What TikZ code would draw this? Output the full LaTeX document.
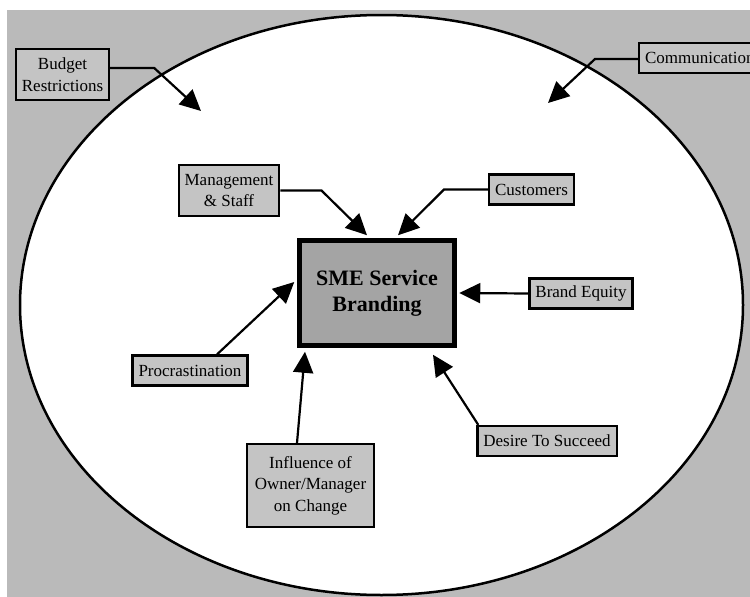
\documentclass[tikz,border=0pt]{standalone}
\usepackage{fontspec}
\setmainfont{Liberation Serif}
\usetikzlibrary{arrows.meta, positioning, calc}
\definecolor{bggray}{RGB}{186,186,186}
\definecolor{boxgray}{RGB}{196,196,196}
\definecolor{coregray}{RGB}{164,164,164}

\begin{document}
\begin{tikzpicture}[x=1pt, y=-1pt,
  factor/.style={draw, line width=2.2pt, fill=boxgray, inner xsep=6pt, inner ysep=5pt, minimum height=30pt, align=center, font=\fontsize{17}{21.5}\selectfont},
  core/.style={draw, line width=4.5pt, fill=coregray, minimum width=155pt, minimum height=105pt, align=center, font=\fontsize{22}{26}\selectfont\bfseries},
  push/.style={line width=2.2pt, -{Triangle[length=21pt, width=20pt]}}]
  \useasboundingbox (0,0) rectangle (750,597);
  \clip (0,0) rectangle (750,597);
  \fill[white] (0,0) rectangle (750,597);
  \fill[bggray] (7,10) rectangle (750,597);
  \draw[line width=2.5pt, fill=white] (381.5,305) ellipse [x radius=361.5, y radius=290];

  \node[core] (sme) at (377,293) {SME Service\\Branding};
  \node[factor, minimum height=51pt] (budget) at (62.5,74.5) {Budget\\Restrictions};
  \node[factor, anchor=west] (comm) at (638,58) {Communication};
  \node[factor, minimum height=51pt] (mgmt) at (229,190.5) {Management\\\& Staff};
  \node[factor] (cust) at (531.5,189.5) {Customers};
  \node[factor] (brand) at (581,293.5) {Brand Equity};
  \node[factor] (procr) at (190,370.5) {Procrastination};
  \node[factor, minimum height=83pt, minimum width=127pt] (influence) at (310.5,485.5) {Influence of\\Owner/Manager\\on Change};
  \node[factor] (desire) at (547,441) {Desire To Succeed};

  \coordinate (budgettip) at (201,111);
  \coordinate (commtip) at (548,103);

  \draw[push] ([yshift=6.5pt]budget.east) -- ++(44,0) -- (budgettip);
  \draw[push] ([yshift=-1pt]comm.west) -- ++(-43,0) -- (commtip);
  \draw[push] (mgmt.east) -- ++(41,0) -- ($(sme.north)+(-10,-3)$);
  \draw[push] (cust.west) -- ++(-44,0) -- ($(sme.north)+(21,-3)$);
  \draw[push] (brand.west) -- ($(sme.east)+(2.5,0)$);
  \draw[push] ($(procr.north)+(27,0)$) -- ($(sme.west)+(-3,-11)$);
  \draw[push] ($(influence.north)+(-13.5,0)$) -- ($(sme.south)+(-72,4)$);
  \draw[push] ($(desire.north west)+(2,0)$) -- ($(sme.south)+(56,7)$);
\end{tikzpicture}
\end{document}
